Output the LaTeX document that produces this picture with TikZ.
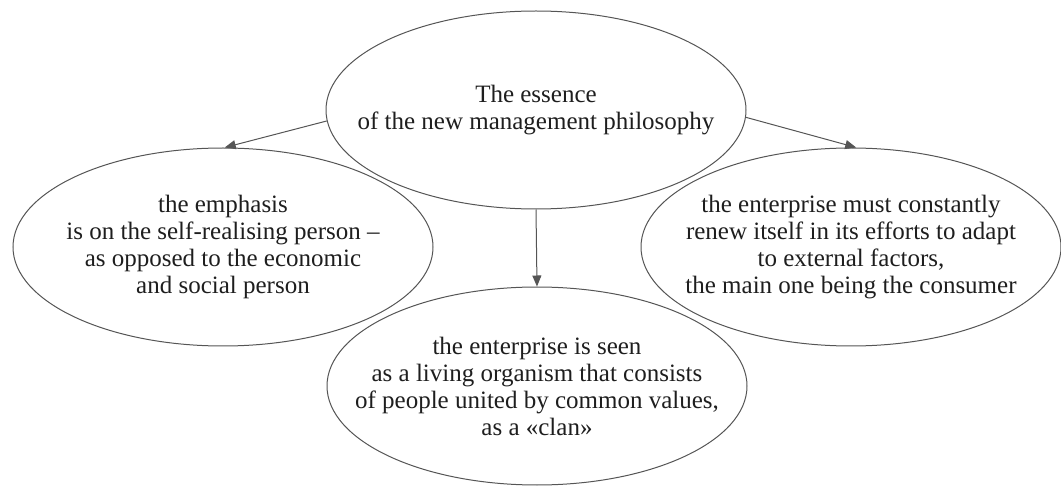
\documentclass[tikz,border=0pt]{standalone}
\usepackage{fontspec}
\setmainfont{Liberation Serif}
\usetikzlibrary{arrows.meta,shapes.geometric}
\definecolor{ovgray}{HTML}{555555}
\definecolor{txtdark}{HTML}{1E1E1E}

\tikzset{
  oval/.style={ellipse,draw=ovgray,line width=0.5pt,text=txtdark,
    minimum width=210pt,minimum height=99pt,inner xsep=-60pt,inner ysep=0pt,
    align=center,font=\fontsize{12.5pt}{13.5pt}\selectfont},
  link/.style={draw=ovgray,line width=0.5pt,-{Triangle[length=5.5pt,width=4.5pt]}}
}

\begin{document}
\begin{tikzpicture}[x=0.5pt,y=-0.5pt]

  % =====================================================================
  % 1. CENTRAL IDEA
  % =====================================================================
  \useasboundingbox (0,0) rectangle (1061,486);

  \node[oval] (essence) at (536,110)
        {The essence\\of the new management philosophy};

  % =====================================================================
  % 2. THREE CONSEQUENCES
  % =====================================================================
  \node[oval] (person) at (223,247)
        {the emphasis\\is on the self-realising person –\\as opposed to the economic\\and social person};

  \node[oval] (renewal) at (851,247)
        {the enterprise must constantly\\renew itself in its efforts to adapt\\to external factors,\\the main one being the consumer};

  \node[oval] (clan) at (537,386)
        {the enterprise is seen\\as a living organism that consists\\of people united by common values,\\as a «clan»};

  % Arrows from the central idea
  \draw[link] (essence.183) -- (person.89);
  \draw[link] (essence.south) -- (clan.north);
  \draw[link] (essence.358) -- (renewal.87);

\end{tikzpicture}
\end{document}
